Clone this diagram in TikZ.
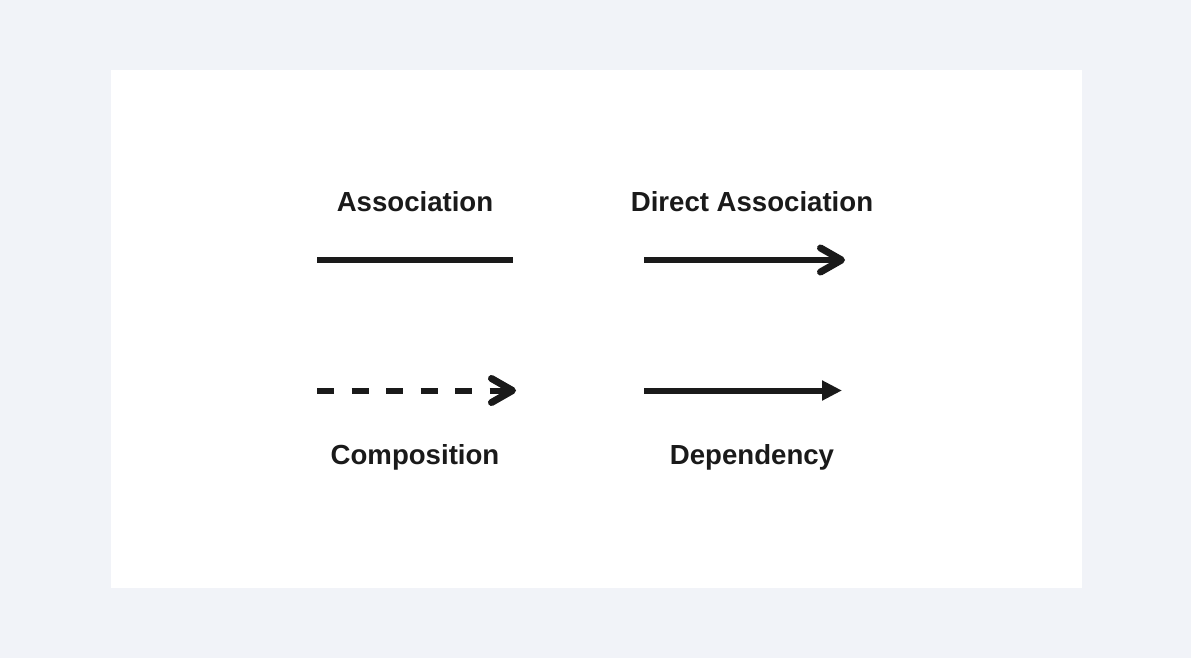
\documentclass[tikz,border=0pt]{standalone}
\usepackage{fontspec}
\setmainfont{Liberation Sans}
\usetikzlibrary{arrows.meta}
\definecolor{bgc}{HTML}{F1F3F8}
\definecolor{ink}{HTML}{1A1A1A}
\begin{document}
\begin{tikzpicture}[x=1pt,y=-1pt,
  lbl/.style={font=\fontsize{27.6}{30}\selectfont\bfseries, text=ink, inner sep=0pt, anchor=base},
  conn/.style={draw=ink, line width=6pt},
  barb/.style={-{Straight Barb[length=21pt,width=24pt,line width=7pt,line cap=round,line join=round]}},
  tri/.style={-{Triangle[length=20pt,width=19pt]}}]
\useasboundingbox (0,0) rectangle (1191,658);
\fill[bgc] (0,0) rectangle (1191,658);
\fill[white] (111,70) rectangle (1082,588);
\node[lbl] (la) at (415,211) {Association};
\node[lbl] (lb) at (752,211) {Direct Association};
\node[lbl] (lc) at (415,464) {Composition};
\node[lbl] (ld) at (752,464) {Dependency};
\coordinate (a1) at (317,260); \coordinate (a2) at (513,260);
\coordinate (b1) at (644,260); \coordinate (b2) at (845,260);
\coordinate (c1) at (317,390.5); \coordinate (c2) at (516,390.5);
\coordinate (d1) at (644,390.5); \coordinate (d2) at (842,390.5);
\draw[conn] (a1) -- (a2);
\draw[conn, barb] (b1) -- (b2);
\draw[conn, barb, dash pattern=on 17pt off 17.5pt] (c1) -- (c2);
\draw[conn, tri] (d1) -- (d2);
\end{tikzpicture}
\end{document}
